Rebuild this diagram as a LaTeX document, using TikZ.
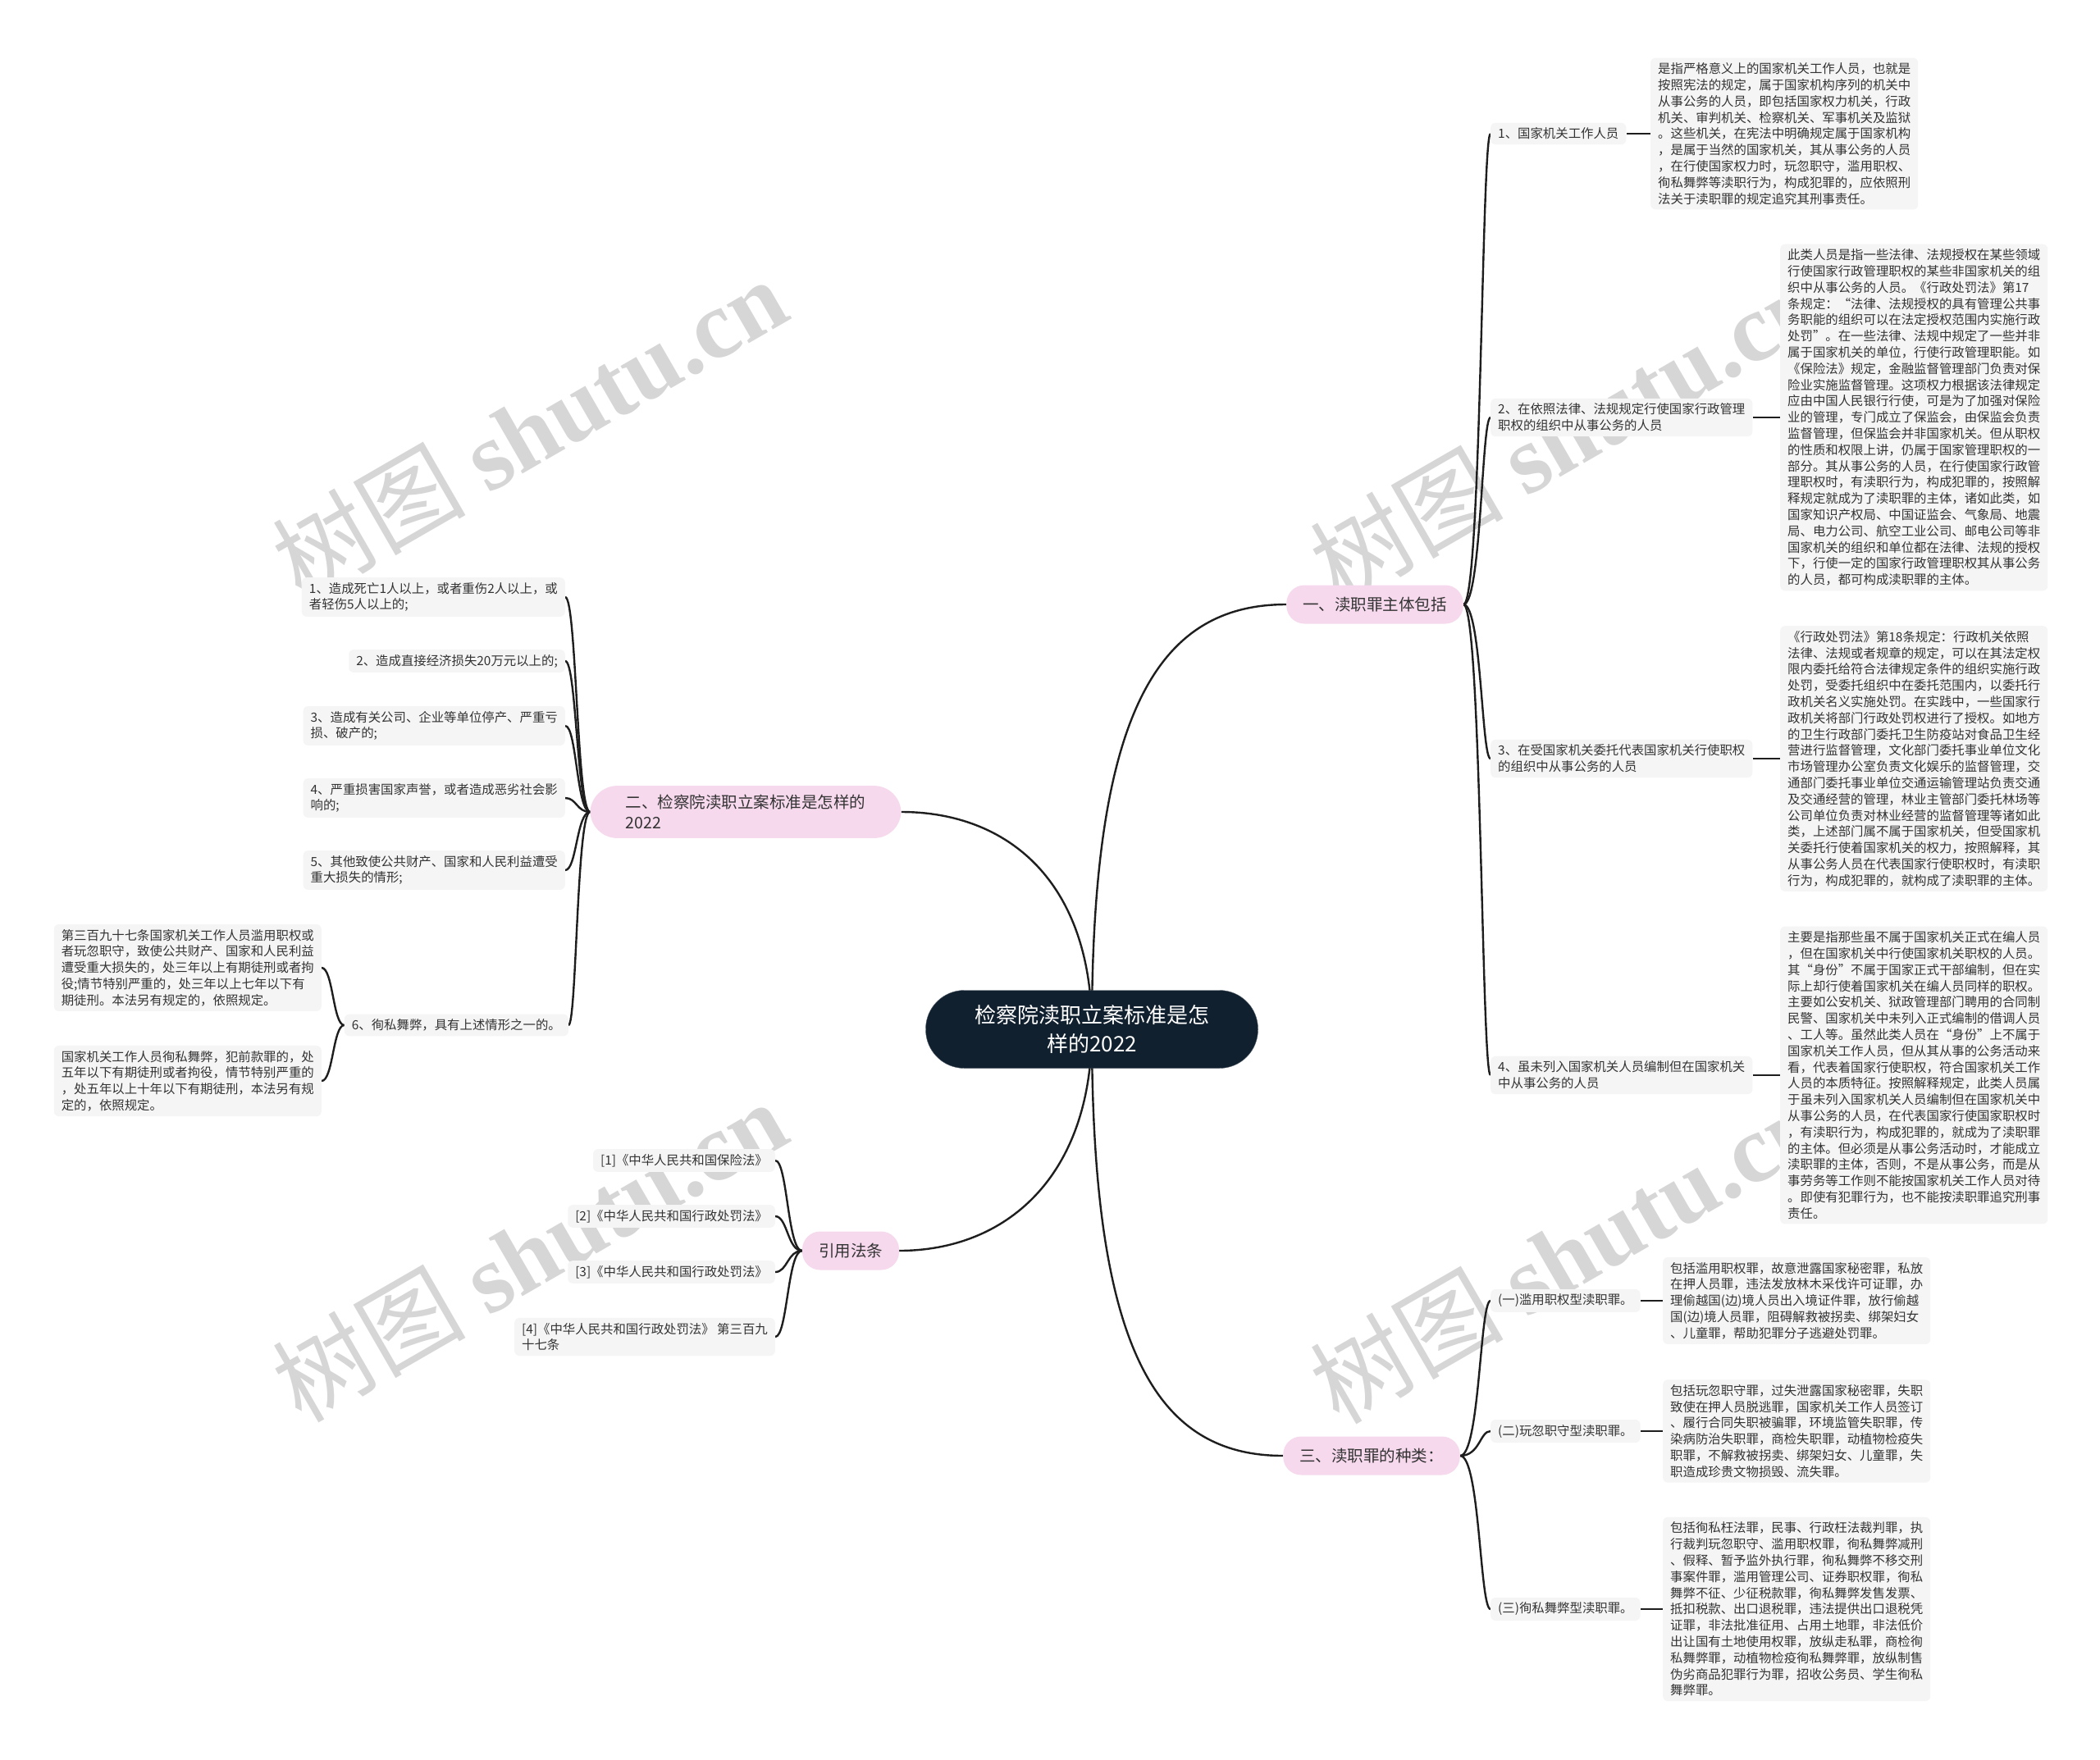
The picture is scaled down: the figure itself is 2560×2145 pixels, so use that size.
\documentclass[tikz,border=0pt]{standalone}
\usepackage{fontspec}
\setmainfont{Noto Sans CJK SC}
\newfontfamily\wmserif{Liberation Serif}
\usetikzlibrary{calc}
\definecolor{boxgray}{HTML}{F5F5F5}
\definecolor{pinkfill}{HTML}{F7D9EE}
\definecolor{navy}{HTML}{11202F}
\definecolor{txt}{HTML}{333333}
\definecolor{linec}{HTML}{1E1E1E}
\definecolor{wmgray}{HTML}{D6D6D6}
\pgfdeclarelayer{paper}
\pgfdeclarelayer{wm}
\pgfdeclarelayer{bg}
\pgfsetlayers{paper,wm,bg,main}
\begin{document}
\begin{tikzpicture}[x=1pt,y=-1pt,
  leaf/.style={fill=boxgray, rounded corners=6pt, inner xsep=9pt, inner ysep=6pt, align=left, text=txt, font=\fontsize{15.4}{19.8}\selectfont},
  branch/.style={fill=pinkfill, rounded corners=22pt, inner xsep=20pt, inner ysep=11pt, minimum height=47pt, align=left, text=txt, font=\fontsize{19.5}{25}\selectfont},
  root/.style={fill=navy, draw=navy!70!white, rounded corners=47pt, minimum width=405pt, minimum height=95pt, align=center, text=white, font=\fontsize{26}{35}\selectfont},
  conn/.style={draw=linec, line width=2.4pt},
  wm/.style={text=wmgray, font=\fontsize{118}{120}\selectfont, rotate=30}
]
\useasboundingbox (0,0) rectangle (2560,2145);
\begin{pgfonlayer}{paper}
  \fill[white] (0,0) rectangle (2560,2145);
\end{pgfonlayer}

% root
\node[root] (C) at (1331,1255) {检察院渎职立案标准是怎\\样的2022};

% branches
\node[branch] (B1) at (1676,737) {一、渎职罪主体包括};
\node[branch, rounded corners=33pt, inner xsep=36pt, minimum width=379pt] (B2) at (909,990) {二、检察院渎职立案标准是怎样的\\2022};
\node[branch] (B3) at (1037,1525) {引用法条};
\node[branch] (B4) at (1672,1775) {三、渎职罪的种类：};

% branch 1 children
\node[leaf, anchor=west] (R1) at (1817,163) {1、国家机关工作人员};
\node[leaf, anchor=west] (R2) at (1817,509) {2、在依照法律、法规规定行使国家行政管理\\职权的组织中从事公务的人员};
\node[leaf, anchor=west] (R3) at (1817,925) {3、在受国家机关委托代表国家机关行使职权\\的组织中从事公务的人员};
\node[leaf, anchor=west] (R4) at (1817,1311) {4、虽未列入国家机关人员编制但在国家机关\\中从事公务的人员};

\node[leaf, anchor=west] (L1) at (2012,163) {是指严格意义上的国家机关工作人员，也就是\\按照宪法的规定，属于国家机构序列的机关中\\从事公务的人员，即包括国家权力机关，行政\\机关、审判机关、检察机关、军事机关及监狱\\。这些机关，在宪法中明确规定属于国家机构\\，是属于当然的国家机关，其从事公务的人员\\，在行使国家权力时，玩忽职守，滥用职权、\\徇私舞弊等渎职行为，构成犯罪的，应依照刑\\法关于渎职罪的规定追究其刑事责任。};
\node[leaf, anchor=west] (L2) at (2170,509) {此类人员是指一些法律、法规授权在某些领域\\行使国家行政管理职权的某些非国家机关的组\\织中从事公务的人员。《行政处罚法》第17\\条规定：“法律、法规授权的具有管理公共事\\务职能的组织可以在法定授权范围内实施行政\\处罚”。在一些法律、法规中规定了一些并非\\属于国家机关的单位，行使行政管理职能。如\\《保险法》规定，金融监督管理部门负责对保\\险业实施监督管理。这项权力根据该法律规定\\应由中国人民银行行使，可是为了加强对保险\\业的管理，专门成立了保监会，由保监会负责\\监督管理，但保监会并非国家机关。但从职权\\的性质和权限上讲，仍属于国家管理职权的一\\部分。其从事公务的人员，在行使国家行政管\\理职权时，有渎职行为，构成犯罪的，按照解\\释规定就成为了渎职罪的主体，诸如此类，如\\国家知识产权局、中国证监会、气象局、地震\\局、电力公司、航空工业公司、邮电公司等非\\国家机关的组织和单位都在法律、法规的授权\\下，行使一定的国家行政管理职权其从事公务\\的人员，都可构成渎职罪的主体。};
\node[leaf, anchor=west] (L3) at (2170,925) {《行政处罚法》第18条规定：行政机关依照\\法律、法规或者规章的规定，可以在其法定权\\限内委托给符合法律规定条件的组织实施行政\\处罚，受委托组织中在委托范围内，以委托行\\政机关名义实施处罚。在实践中，一些国家行\\政机关将部门行政处罚权进行了授权。如地方\\的卫生行政部门委托卫生防疫站对食品卫生经\\营进行监督管理，文化部门委托事业单位文化\\市场管理办公室负责文化娱乐的监督管理，交\\通部门委托事业单位交通运输管理站负责交通\\及交通经营的管理，林业主管部门委托林场等\\公司单位负责对林业经营的监督管理等诸如此\\类，上述部门属不属于国家机关，但受国家机\\关委托行使着国家机关的权力，按照解释，其\\从事公务人员在代表国家行使职权时，有渎职\\行为，构成犯罪的，就构成了渎职罪的主体。};
\node[leaf, anchor=west] (L4) at (2170,1311) {主要是指那些虽不属于国家机关正式在编人员\\，但在国家机关中行使国家机关职权的人员。\\其“身份”不属于国家正式干部编制，但在实\\际上却行使着国家机关在编人员同样的职权。\\主要如公安机关、狱政管理部门聘用的合同制\\民警、国家机关中未列入正式编制的借调人员\\、工人等。虽然此类人员在“身份”上不属于\\国家机关工作人员，但从其从事的公务活动来\\看，代表着国家行使职权，符合国家机关工作\\人员的本质特征。按照解释规定，此类人员属\\于虽未列入国家机关人员编制但在国家机关中\\从事公务的人员，在代表国家行使国家职权时\\，有渎职行为，构成犯罪的，就成为了渎职罪\\的主体。但必须是从事公务活动时，才能成立\\渎职罪的主体，否则，不是从事公务，而是从\\事劳务等工作则不能按国家机关工作人员对待\\。即使有犯罪行为，也不能按渎职罪追究刑事\\责任。};

% branch 3 (types)
\node[leaf, anchor=west] (T1) at (1817,1586) {(一)滥用职权型渎职罪。};
\node[leaf, anchor=west] (T2) at (1817,1745) {(二)玩忽职守型渎职罪。};
\node[leaf, anchor=west] (T3) at (1817,1962) {(三)徇私舞弊型渎职罪。};
\node[leaf, anchor=west] (L5) at (2027,1586) {包括滥用职权罪，故意泄露国家秘密罪，私放\\在押人员罪，违法发放林木采伐许可证罪，办\\理偷越国(边)境人员出入境证件罪，放行偷越\\国(边)境人员罪，阻碍解救被拐卖、绑架妇女\\、儿童罪，帮助犯罪分子逃避处罚罪。};
\node[leaf, anchor=west] (L6) at (2027,1745) {包括玩忽职守罪，过失泄露国家秘密罪，失职\\致使在押人员脱逃罪，国家机关工作人员签订\\、履行合同失职被骗罪，环境监管失职罪，传\\染病防治失职罪，商检失职罪，动植物检疫失\\职罪，不解救被拐卖、绑架妇女、儿童罪，失\\职造成珍贵文物损毁、流失罪。};
\node[leaf, anchor=west] (L7) at (2027,1962) {包括徇私枉法罪，民事、行政枉法裁判罪，执\\行裁判玩忽职守、滥用职权罪，徇私舞弊减刑\\、假释、暂予监外执行罪，徇私舞弊不移交刑\\事案件罪，滥用管理公司、证券职权罪，徇私\\舞弊不征、少征税款罪，徇私舞弊发售发票、\\抵扣税款、出口退税罪，违法提供出口退税凭\\证罪，非法批准征用、占用土地罪，非法低价\\出让国有土地使用权罪，放纵走私罪，商检徇\\私舞弊罪，动植物检疫徇私舞弊罪，放纵制售\\伪劣商品犯罪行为罪，招收公务员、学生徇私\\舞弊罪。};

% branch 2 (left)
\node[leaf, anchor=east] (K1) at (689,728) {1、造成死亡1人以上，或者重伤2人以上，或\\者轻伤5人以上的;};
\node[leaf, anchor=east] (K2) at (689,806) {2、造成直接经济损失20万元以上的;};
\node[leaf, anchor=east] (K3) at (689,885) {3、造成有关公司、企业等单位停产、严重亏\\损、破产的;};
\node[leaf, anchor=east] (K4) at (689,973) {4、严重损害国家声誉，或者造成恶劣社会影\\响的;};
\node[leaf, anchor=east] (K5) at (689,1061) {5、其他致使公共财产、国家和人民利益遭受\\重大损失的情形;};
\node[leaf, anchor=east] (K6) at (693,1250) {6、徇私舞弊，具有上述情形之一的。};
\node[leaf, anchor=east] (D1) at (392,1180) {第三百九十七条国家机关工作人员滥用职权或\\者玩忽职守，致使公共财产、国家和人民利益\\遭受重大损失的，处三年以上有期徒刑或者拘\\役;情节特别严重的，处三年以上七年以下有\\期徒刑。本法另有规定的，依照规定。};
\node[leaf, anchor=east] (D2) at (392,1318) {国家机关工作人员徇私舞弊，犯前款罪的，处\\五年以下有期徒刑或者拘役，情节特别严重的\\，处五年以上十年以下有期徒刑，本法另有规\\定的，依照规定。};

% citations
\node[leaf, anchor=east] (Q1) at (945,1415) {[1]《中华人民共和国保险法》};
\node[leaf, anchor=east] (Q2) at (945,1483) {[2]《中华人民共和国行政处罚法》};
\node[leaf, anchor=east] (Q3) at (945,1551) {[3]《中华人民共和国行政处罚法》};
\node[leaf, anchor=east] (Q4) at (945,1630) {[4]《中华人民共和国行政处罚法》 第三百九\\十七条};

% spine coordinates
\coordinate (S1) at (1806,737);
\coordinate (S2) at (703,990);
\coordinate (S3) at (406,1250);
\coordinate (S4) at (960,1525);
\coordinate (S5) at (1804,1775);

\begin{pgfonlayer}{bg}
  % root to branches
  \draw[conn] (C.center) .. controls +(0,-380) and +(-160,0) .. (B1.west);
  \draw[conn] (C.center) .. controls +(0,-180) and +(130,0) .. (B2.east);
  \draw[conn] (C.center) .. controls +(0,180) and +(130,0) .. (B3.east);
  \draw[conn] (C.center) .. controls +(0,380) and +(-160,0) .. (B4.west);
  % branch 1
  \foreach \n in {R1,R2,R3,R4}
    \draw[conn] (B1.east) .. controls (S1) and (S1 |- \n.west) .. (\n.west);
  \draw[conn] (R1.east) -- (R1.east -| L1.west);
  \draw[conn] (R2.east) -- (R2.east -| L2.west);
  \draw[conn] (R3.east) -- (R3.east -| L3.west);
  \draw[conn] (R4.east) -- (R4.east -| L4.west);
  % branch 3
  \foreach \n in {T1,T2,T3}
    \draw[conn] (B4.east) .. controls (S5) and (S5 |- \n.west) .. (\n.west);
  \draw[conn] (T1.east) -- (T1.east -| L5.west);
  \draw[conn] (T2.east) -- (T2.east -| L6.west);
  \draw[conn] (T3.east) -- (T3.east -| L7.west);
  % branch 2
  \foreach \n in {K1,K2,K3,K4,K5,K6}
    \draw[conn] (B2.west) .. controls (S2) and (S2 |- \n.east) .. (\n.east);
  \foreach \n in {D1,D2}
    \draw[conn] (K6.west) .. controls (S3) and (S3 |- \n.east) .. (\n.east);
  % citations
  \foreach \n in {Q1,Q2,Q3,Q4}
    \draw[conn] (B3.west) .. controls (S4) and (S4 |- \n.east) .. (\n.east);
\end{pgfonlayer}

\begin{pgfonlayer}{wm}
  \node[wm] (W1) at (645,522) {树图 {\wmserif\bfseries shutu.cn}};
  \node[wm] (W2) at (645,1525) {树图 {\wmserif\bfseries shutu.cn}};
  \node[wm] (W3) at (1910,526) {树图 {\wmserif\bfseries shutu.cn}};
  \node[wm] (W4) at (1910,1527) {树图 {\wmserif\bfseries shutu.cn}};
\end{pgfonlayer}
\end{tikzpicture}
\end{document}
